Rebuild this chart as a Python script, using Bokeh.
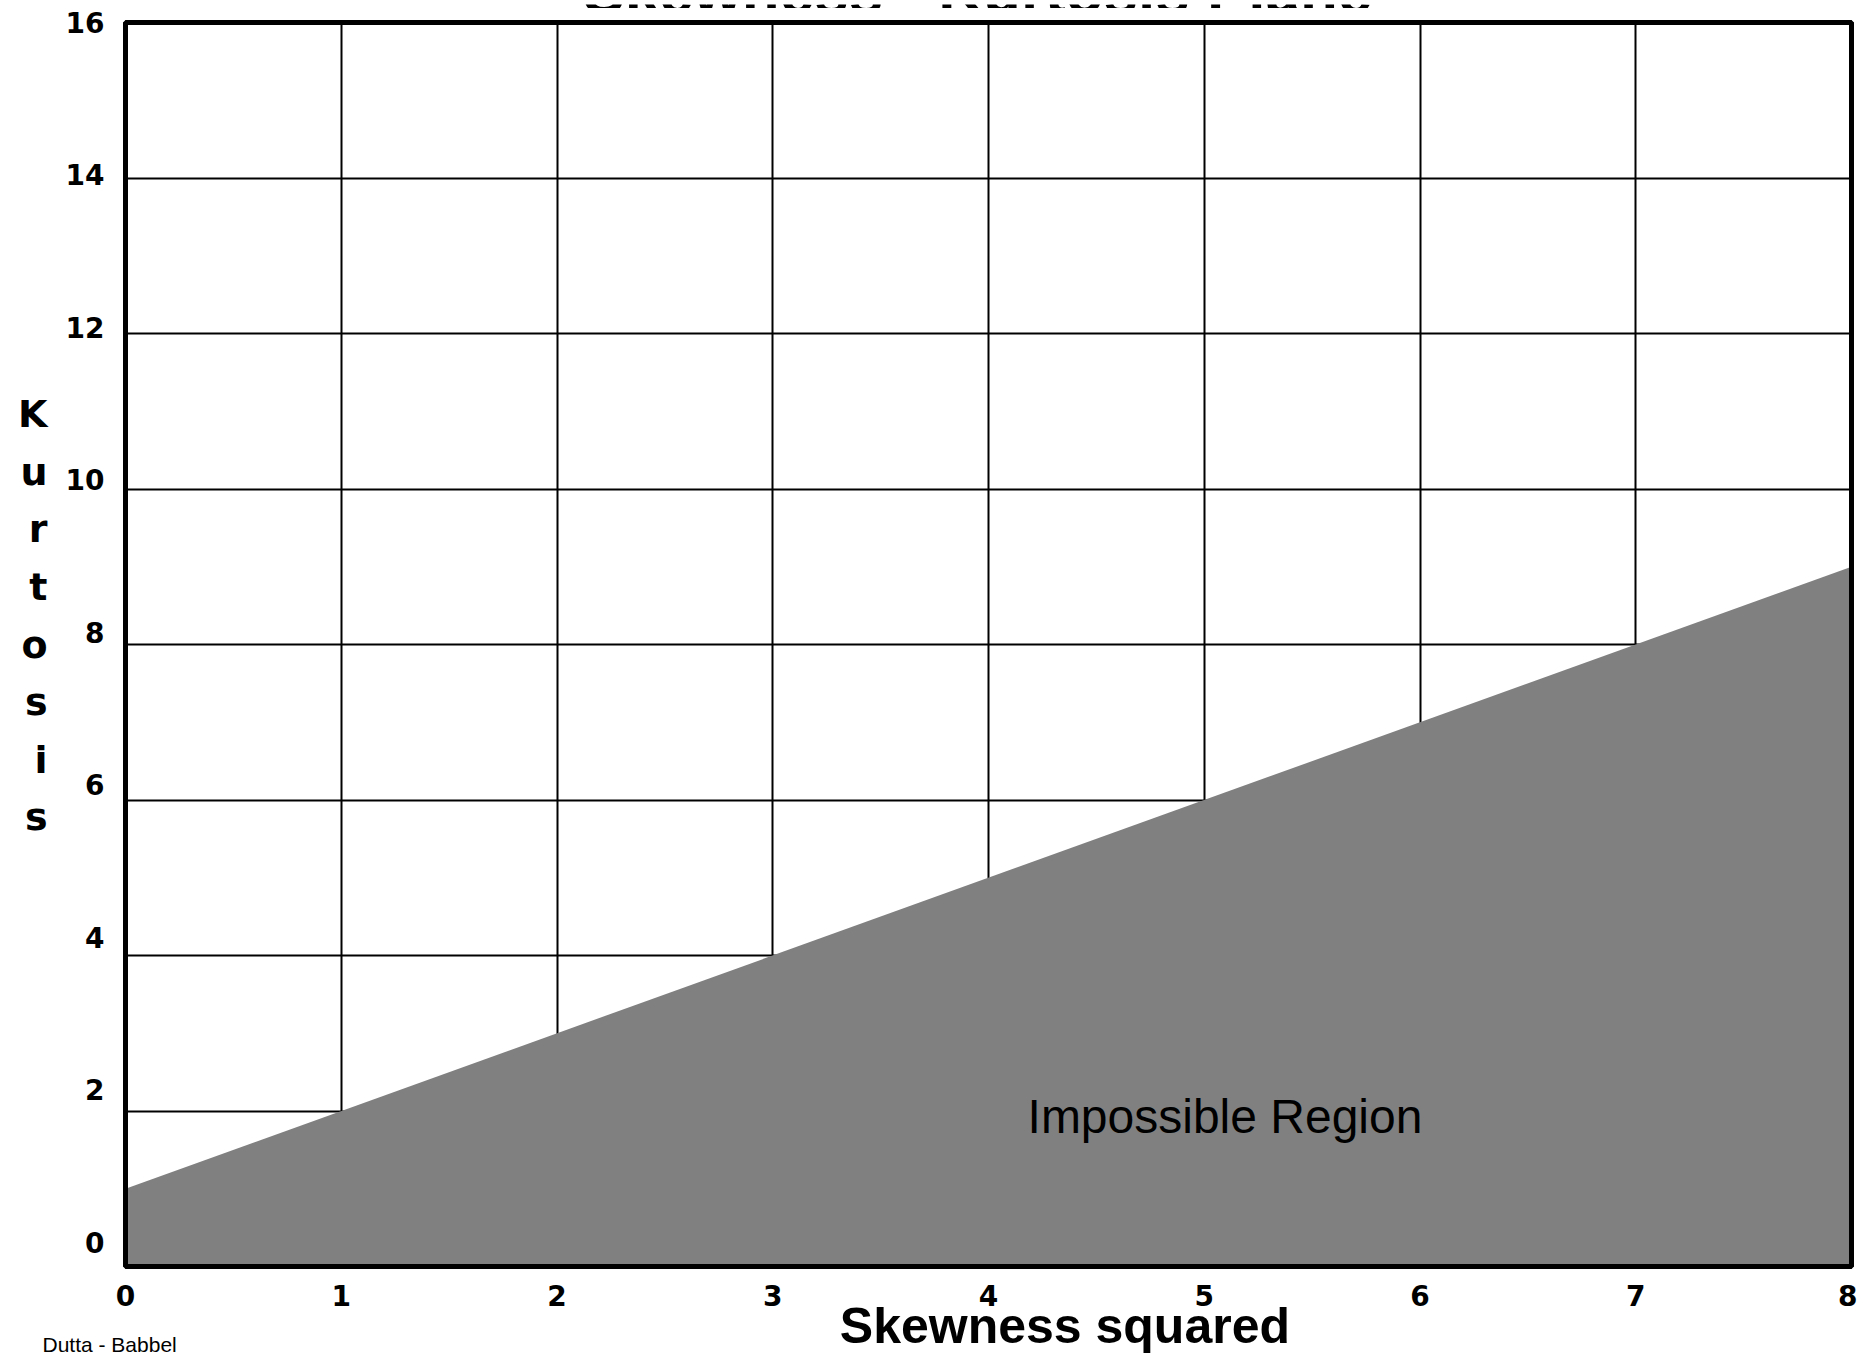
from bokeh.plotting import figure
from bokeh.layouts import column
from bokeh.models import Range1d, LinearAxis, FixedTicker, Label, Title
from bokeh.embed import file_html
from bokeh.resources import INLINE

# ---- data ----
skew_sq_ticks = [0, 1, 2, 3, 4, 5, 6, 7, 8]
kurtosis_ticks = [0, 2, 4, 6, 8, 10, 12, 14, 16]
boundary_skew_sq = [0, 8]          # skewness squared
boundary_kurtosis = [1, 9]         # kurtosis = skewness^2 + 1
region_floor = [0, 0]

title_text = "Skewness - Kurtosis Plane"
x_label_text = "Skewness squared"
y_label_text = "Kurtosis"
region_text = "Impossible Region"
credit_text = "Dutta - Babbel"

W = 1857
TOP_H = 8
MAIN_H = 1356 - TOP_H

# ---- strip at the top: the title, mostly cut off by the picture's top edge ----
top = figure(width=W, height=TOP_H, x_range=Range1d(0, W), y_range=Range1d(0, TOP_H),
             output_backend="svg", toolbar_location=None,
             x_axis_location=None, y_axis_location=None,
             min_border=0, min_border_left=0, min_border_right=0,
             min_border_top=0, min_border_bottom=0)
top.grid.visible = False
top.outline_line_color = None
top.background_fill_color = "white"
top.border_fill_color = "white"
top.add_layout(Label(x=917, y=TOP_H + 13.5, text=title_text, text_align="center",
                     text_baseline="middle", text_font="Liberation Sans",
                     text_font_style="bold", text_font_size="62px", text_color="black"))

# ---- main chart ----
p = figure(width=W, height=MAIN_H,
           x_range=Range1d(0, 8), y_range=Range1d(0, 16),
           output_backend="svg", toolbar_location=None,
           y_axis_location=None,
           min_border_left=125, min_border_right=6,
           min_border_top=14, min_border_bottom=90)

p.background_fill_color = "white"
p.border_fill_color = "white"
p.outline_line_color = "black"
p.outline_line_width = 5

# grid
p.xgrid.ticker = FixedTicker(ticks=skew_sq_ticks)
p.ygrid.ticker = FixedTicker(ticks=kurtosis_ticks)
for g in (p.xgrid, p.ygrid):
    g.grid_line_color = "black"
    g.grid_line_width = 2

# impossible region
p.varea(x=boundary_skew_sq, y1=region_floor, y2=boundary_kurtosis,
        fill_color="#808080", fill_alpha=1.0)

# x axis
xa = p.xaxis[0]
xa.ticker = FixedTicker(ticks=skew_sq_ticks)
xa.axis_line_color = "black"
xa.axis_line_width = 5
xa.major_tick_line_color = None
xa.minor_tick_line_color = None
xa.major_label_text_font = "DejaVu Sans"
xa.major_label_text_font_style = "bold"
xa.major_label_text_font_size = "28px"
xa.major_label_text_color = "black"
xa.major_label_standoff = 12
xa.axis_label = "\u00a0" * 11 + x_label_text
xa.axis_label_standoff = -11
xa.axis_label_text_font = "Liberation Sans"
xa.axis_label_text_font_style = "bold"
xa.axis_label_text_font_size = "50px"
xa.axis_label_text_color = "black"

# y axis: tick labels on their own (slightly compressed) label scale
p.extra_y_ranges = {"ticklabels": Range1d(-0.315, 16.0)}
ya = LinearAxis(y_range_name="ticklabels", ticker=FixedTicker(ticks=kurtosis_ticks))
ya.axis_line_color = "black"
ya.axis_line_width = 5
ya.major_tick_line_color = None
ya.minor_tick_line_color = None
ya.major_label_text_font = "DejaVu Sans"
ya.major_label_text_font_style = "bold"
ya.major_label_text_font_size = "28px"
ya.major_label_text_color = "black"
ya.major_label_standoff = 15
ya.axis_label = "\n".join(list(y_label_text) + ["\u00a0"])
ya.axis_label_orientation = "horizontal"
ya.axis_label_standoff = 15
ya.axis_label_text_font = "DejaVu Sans"
ya.axis_label_text_font_style = "bold"
ya.axis_label_text_font_size = "38px"
ya.axis_label_text_color = "black"
ya.axis_label_text_align = "center"
ya.axis_label_text_line_height = 1.31
p.add_layout(ya, "left")

# top/right frame lines
for side in ("above", "right"):
    ax = LinearAxis(ticker=FixedTicker(ticks=[]), major_label_text_font_size="0px",
                    axis_line_color="black", axis_line_width=5,
                    major_tick_line_color=None, minor_tick_line_color=None)
    p.add_layout(ax, side)

# region label
p.add_layout(Label(x=4.181, y=1.93, text=region_text, text_align="left",
                   text_baseline="middle", text_font="Liberation Sans",
                   text_font_size="48px", text_color="black"))

# credit line, bottom left
credit = Title(text=credit_text, align="left", vertical_align="top",
               offset=-83, standoff=-48, text_font="Liberation Sans",
               text_font_style="normal", text_font_size="21px", text_color="black")
p.add_layout(credit, "below")

layout = column(top, p, spacing=0)
open("out.html", "w").write(file_html(layout, INLINE))
